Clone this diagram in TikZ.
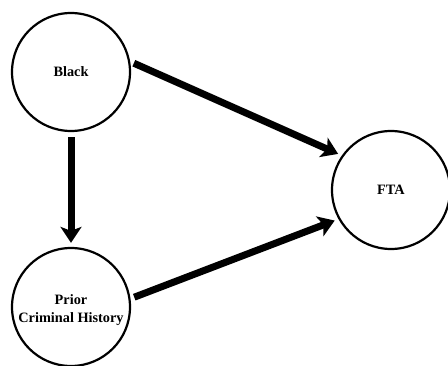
\documentclass[tikz,border=0pt]{standalone}
\usepackage{fontspec}
\setmainfont{Liberation Serif}
\usetikzlibrary{arrows.meta}
\begin{document}
\begin{tikzpicture}[x=1pt,y=-1pt,
  var/.style={circle,draw,line width=2.2pt,minimum size=118pt,inner sep=0pt,align=center,
    font=\fontsize{14.3}{18}\selectfont\bfseries},
  arr/.style={line width=7pt,-{Stealth[length=16pt,width=21pt,inset=4pt]}}]
\useasboundingbox (0,0) rectangle (448,366);
\node[var] (Black) at (71,72) {Black};
\node[var] (FTA) at (391,190) {FTA};
\node[var] (Prior) at (71,307) {\rule{0pt}{16pt}Prior\\Criminal History};
\draw[arr,shorten <=5pt,shorten >=4pt] (Black.south) -- (Prior.north);
\draw[arr,shorten <=4pt,shorten >=4pt] (Black.10) -- (FTA.145);
\draw[arr,shorten <=4pt,shorten >=4pt] (Prior.8) -- (FTA.209);
\end{tikzpicture}
\end{document}
